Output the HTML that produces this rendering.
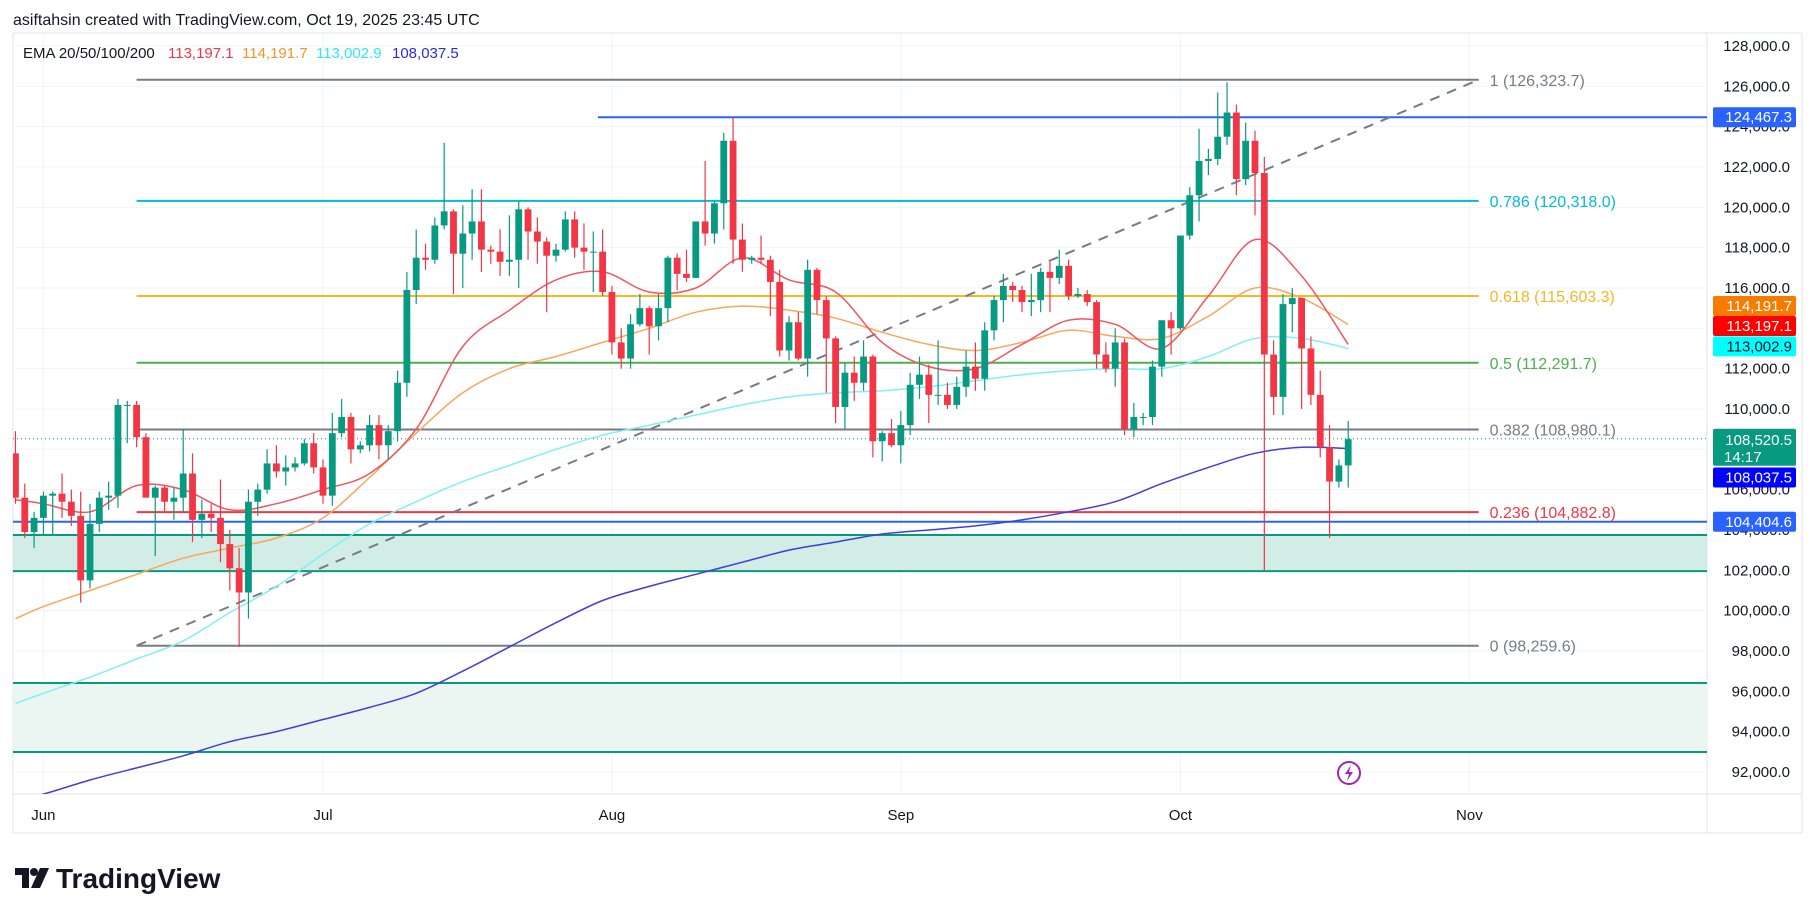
<!DOCTYPE html>
<html><head><meta charset="utf-8"><style>
html,body{margin:0;padding:0;background:#fff;}
body{width:1815px;height:900px;overflow:hidden;position:relative;font-family:"Liberation Sans",Arial,sans-serif;}
svg text{font-family:"Liberation Sans",Arial,sans-serif;}
</style></head><body>
<svg id="chart" width="1815" height="900" viewBox="0 0 1815 900" xmlns="http://www.w3.org/2000/svg">
<rect x="0" y="0" width="1815" height="900" fill="#ffffff"/>
<text x="13" y="25" font-size="16" fill="#131722">asiftahsin created with TradingView.com, Oct 19, 2025 23:45 UTC</text>
<line x1="13" y1="33" x2="1802" y2="33" stroke="#e0e3eb" stroke-width="1"/>
<line x1="13" y1="33" x2="13" y2="833" stroke="#e0e3eb" stroke-width="1"/>
<line x1="1802" y1="33" x2="1802" y2="833" stroke="#e0e3eb" stroke-width="1"/>
<line x1="13" y1="833" x2="1802" y2="833" stroke="#e0e3eb" stroke-width="1"/>
<line x1="13" y1="794" x2="1802" y2="794" stroke="#e0e3eb" stroke-width="1"/>
<line x1="1707" y1="33" x2="1707" y2="833" stroke="#e0e3eb" stroke-width="1"/>
<g id="grid"></g>
<g id="zones"></g>
<g id="levels"></g>
<g id="emas"></g>
<g id="candles"></g>
<g id="axis"></g>
<g id="labels"></g>
<g>
<text x="23" y="58" font-size="15" fill="#131722">EMA 20/50/100/200</text>
<text x="168" y="58" font-size="15" fill="#f23645">113,197.1</text>
<text x="242" y="58" font-size="15" fill="#f7922b">114,191.7</text>
<text x="316" y="58" font-size="15" fill="#2ee9f2">113,002.9</text>
<text x="392" y="58" font-size="15" fill="#2c2cd6">108,037.5</text>
</g>
<g>
<circle cx="1349" cy="773" r="11" fill="#fff" stroke="#9c27b0" stroke-width="2"/>
<path d="M1351 765 L1345 774 L1349 774 L1347 781 L1353 772 L1349 772 Z" fill="#9c27b0"/>
</g>
<g>
<path d="M15 868 L29 868 L29 888 L22 888 L22 875 L15 875 Z" fill="#131722"/>
<circle cx="34" cy="872" r="4" fill="#131722"/>
<path d="M40 868 L49 868 L40 888 L31 888 Z" fill="#131722"/>
<text x="56" y="888" font-size="28" font-weight="bold" fill="#131722">TradingView</text>
</g>
</svg>
<script>
// ---- data ----
const startDay = -3; // May 29 relative to Jun 1
const opens  = [107.8,105.6,103.9, 104.6,105.7,105.8,105.4,104.7,101.5,104.3,105.6,105.7,110.2,110.2,108.6,105.6,106.1,105.4,105.6,106.8,104.5,104.8,104.6,103.3,102.1,100.9,105.4,106.0,107.3,106.9,107.1,107.3,108.3,
 107.1,105.7,108.8,109.6,108.0,108.2,109.2,108.2,108.9,111.3,115.9,117.5,117.4,119.1,119.8,117.7,118.7,119.3,117.9,117.8,117.3,117.4,119.9,118.8,118.3,117.6,117.9,119.4,118.0,117.8,117.8,
 115.8,113.3,112.5,114.2,115.0,114.1,115.0,117.5,116.7,116.5,119.3,118.7,120.2,123.3,118.4,117.4,117.5,117.4,116.3,112.9,114.3,112.5,116.9,115.4,113.5,110.1,111.8,111.3,112.6,108.4,108.8,
 108.2,109.2,111.2,111.7,110.7,110.7,110.2,111.1,112.1,111.5,113.9,115.4,116.1,115.9,115.3,115.4,116.8,116.5,117.1,115.6,115.7,115.3,112.7,112.0,113.3,109.0,109.6,109.6,112.1,114.4,
 114.0,118.6,120.6,122.3,122.4,123.5,124.7,121.4,123.3,121.7,112.7,110.6,115.2,115.5,113.0,110.7,108.1,106.4,107.2];
const highs  = [108.9,106.3,104.9, 105.9,105.9,106.8,106.0,105.9,105.3,105.9,106.4,110.5,110.4,110.4,108.8,106.2,106.2,106.1,109.0,107.8,105.5,105.3,106.5,104.0,103.1,106.0,106.3,108.0,108.2,107.7,107.6,108.5,108.8,
 107.5,109.8,110.5,109.8,108.4,109.7,109.7,109.2,111.9,116.8,118.9,118.2,119.5,123.2,119.9,120.1,120.9,120.9,118.1,118.9,119.6,120.3,120.0,119.5,118.5,118.2,119.8,119.8,119.2,118.8,118.9,
 116.1,114.0,114.7,115.7,115.1,115.7,117.6,117.7,117.9,119.3,122.3,120.3,123.7,124.5,119.2,117.6,118.6,117.6,116.9,114.6,114.8,117.4,117.0,115.6,113.6,112.3,112.6,113.4,112.7,108.9,109.5,
 109.9,111.8,112.6,112.2,113.4,111.3,111.6,112.9,113.3,114.3,115.6,116.7,116.3,116.1,116.7,117.0,117.3,117.9,117.4,116.0,115.9,115.4,113.3,114.0,113.5,110.3,109.8,112.4,114.4,114.8,
 118.6,121.0,123.9,122.9,125.7,126.2,125.1,124.2,123.8,122.5,113.4,115.7,116.0,115.5,113.6,111.9,109.2,107.5,109.4];
const lows   = [105.3,103.6,103.1, 103.8,103.7,104.6,104.2,100.4,101.1,103.9,105.0,105.1,108.3,108.1,105.7,102.7,104.9,104.5,104.9,103.4,103.6,103.9,102.4,101.0,98.2,99.6,104.7,105.8,106.6,106.2,106.9,107.2,106.8,
 105.3,105.2,108.6,107.3,107.8,107.9,107.5,107.5,108.4,110.6,115.2,116.9,117.2,118.9,115.7,116.0,117.4,116.8,117.2,116.6,116.6,116.0,117.4,117.2,114.8,117.3,117.8,117.5,116.9,115.8,115.6,
 112.7,112.0,112.0,114.1,112.7,113.4,114.3,115.9,116.3,116.5,118.1,118.2,118.9,117.2,116.8,117.2,117.2,114.6,112.6,112.4,112.4,111.6,114.7,110.8,109.3,109.0,110.4,110.9,107.6,107.4,108.1,
 107.3,108.7,110.5,109.3,110.2,110.0,110.0,110.6,110.9,110.9,113.4,114.3,115.3,114.8,114.6,114.8,114.8,116.2,115.4,115.5,115.1,112.0,111.8,111.1,108.7,108.6,109.2,109.2,111.6,112.7,
 113.9,118.4,119.3,121.6,122.1,123.1,120.6,121.1,119.6,102.0,109.7,109.7,113.8,110.0,110.2,107.6,103.6,106.1,106.1];
const closes = [105.6,103.9,104.6, 105.7,105.8,105.4,104.7,101.5,104.3,105.6,105.7,110.2,110.2,108.6,105.6,106.1,105.4,105.6,106.8,104.5,104.8,104.6,103.3,102.1,100.9,105.4,106.0,107.3,106.9,107.1,107.3,108.3,107.1,
 105.7,108.8,109.6,108.0,108.2,109.2,108.2,108.9,111.3,115.9,117.5,117.4,119.1,119.8,117.7,118.7,119.3,117.9,117.8,117.3,117.4,119.9,118.8,118.3,117.6,117.9,119.4,118.0,117.8,117.8,115.8,
 113.3,112.5,114.2,115.0,114.1,115.0,117.5,116.7,116.5,119.3,118.7,120.2,123.3,118.4,117.4,117.5,117.4,116.3,112.9,114.3,112.5,116.9,115.4,113.5,110.1,111.8,111.3,112.6,108.4,108.8,108.2,
 109.2,111.2,111.7,110.7,110.7,110.2,111.1,112.1,111.5,113.9,115.4,116.1,115.9,115.3,115.4,116.8,116.5,117.1,115.6,115.7,115.3,112.7,112.0,113.3,109.0,109.6,109.6,112.1,114.4,114.0,
 118.6,120.6,122.3,122.4,123.5,124.7,121.4,123.3,121.7,112.7,110.6,115.2,115.5,113.0,110.7,108.1,106.4,107.2,108.5];
const emaDays = [-3,0,5,10,15,20,25,30,35,40,45,50,55,60,65,70,75,80,85,90,95,100,105,110,115,120,125,130,135,140];
const ema20  = [105.5,105.3,104.9,106.2,106.0,105.0,105.3,106.0,106.8,109.0,113.1,114.9,116.4,116.8,115.8,116.0,117.5,116.4,115.8,113.3,112.1,112.0,113.2,114.4,114.2,113.0,115.6,118.4,116.6,113.2];
const ema50  = [99.6,100.2,101.0,101.8,102.6,103.1,103.6,104.6,106.6,108.8,110.8,112.0,112.6,113.3,114.0,114.8,115.1,114.9,114.5,113.8,113.2,112.9,113.3,113.9,113.6,113.5,114.6,116.0,115.5,114.19];
const ema100 = [95.4,95.9,96.7,97.6,98.5,99.9,101.2,102.8,104.3,105.4,106.4,107.2,108.0,108.7,109.2,109.7,110.2,110.6,110.8,110.9,111.1,111.4,111.7,111.9,112.0,112.0,112.6,113.5,113.5,113.0];
const ema200 = [90.6,90.9,91.6,92.2,92.8,93.5,94.0,94.6,95.2,95.9,97.0,98.2,99.4,100.5,101.2,101.8,102.4,103.0,103.4,103.8,104.0,104.2,104.5,104.9,105.4,106.3,107.1,107.8,108.1,108.04];
const priceTicks = [128000,126000,124000,122000,120000,118000,116000,114000,112000,110000,108000,106000,104000,102000,100000,98000,96000,94000,92000];
const monthLabels = ["Jun","Jul","Aug","Sep","Oct","Nov"];
const monthDays = [0,30,61,92,122,153];
const fibLevels = [1,0.786,0.618,0.5,0.382,0.236,0];
const fibPrices = [126323.7,120318.0,115603.3,112291.7,108980.1,104882.8,98259.6];
const fibColors = ["#787b86","#00bcd4","#f5b820","#4caf50","#787b86","#f23645","#787b86"];
const fibStartDay = 10, fibEndDay = 154;
const supportZones = [[103750,101960],[96410,92990]];
const resistancePrice = 124467.3, supportLine = 104404.6, lastPrice = 108520.5;

// ---- scales ----
const PL=13, PR=1707, PT=33, PB=794;
function y(p){ return 46 + (128000 - p)/2000*40.33; }
function x(d){ return 43.4 + 9.32*d; }
const NS="http://www.w3.org/2000/svg";
function mk(tag, parent, attrs){ const e=document.createElementNS(NS,tag); for(const k in attrs) e.setAttribute(k, attrs[k]); parent.appendChild(e); return e; }
const G = id => document.getElementById(id);

const defs = mk('defs', G('chart'), {});
const cp = mk('clipPath', defs, {id:'plotclip'});
mk('rect', cp, {x:PL, y:PT, width:PR-PL, height:PB-PT});
['grid','zones','levels','emas','candles'].forEach(id=>G(id).setAttribute('clip-path','url(#plotclip)'));

priceTicks.forEach((p,i)=>{
  const gl = mk('line', G('grid'), {x1:PL,x2:PR,y1:y(p),y2:y(p),stroke:'#f0f3fa','stroke-width':1});
  
  
  const t = mk('text', G('axis'), {x:1790,y:y(p)+5,'font-size':15,fill:'#131722','text-anchor':'end'});
  
  
  t.textContent = p.toLocaleString('en-US',{minimumFractionDigits:1,maximumFractionDigits:1});
});
monthLabels.forEach((m,i)=>{
  const gl = mk('line', G('grid'), {x1:x(monthDays[i]),x2:x(monthDays[i]),y1:PT,y2:PB,stroke:'#f0f3fa','stroke-width':1});
  
  
  const t = mk('text', G('axis'), {x:x(monthDays[i]),y:820,'font-size':15,fill:'#131722','text-anchor':'middle'});
  
  
  t.textContent = m;
});

supportZones.forEach((z,i)=>{
  const r = mk('rect', G('zones'), {x:PL,y:y(z[0]),width:PR-PL,height:y(z[1])-y(z[0]),fill:i==0?'#d1ede6':'#ebf6f3'});
  
  
  [z[0],z[1]].forEach(p=>{
    const l = mk('line', G('zones'), {x1:PL,x2:PR,y1:y(p),y2:y(p),stroke:'#089981','stroke-width':2});
    
    
  });
});

let l1 = mk('line', G('levels'), {x1:x(59.5),x2:PR,y1:y(resistancePrice),y2:y(resistancePrice),stroke:'#2962ff','stroke-width':2});


let l2 = mk('line', G('levels'), {x1:PL,x2:PR,y1:y(supportLine),y2:y(supportLine),stroke:'#2962ff','stroke-width':2});


let l3 = mk('line', G('levels'), {x1:PL,x2:PR,y1:y(lastPrice),y2:y(lastPrice),stroke:'#089981','stroke-width':1,'stroke-dasharray':'1 3'});


fibLevels.forEach((lv,i)=>{
  const l = mk('line', G('levels'), {x1:x(fibStartDay),x2:x(fibEndDay),y1:y(fibPrices[i]),y2:y(fibPrices[i]),stroke:fibColors[i],'stroke-width':2});
  
  
  const t = mk('text', G('labels'), {x:x(fibEndDay)+11,y:y(fibPrices[i])+6,'font-size':16,fill:fibColors[i]});
  
  
  t.textContent = lv + ' (' + fibPrices[i].toLocaleString('en-US',{minimumFractionDigits:1,maximumFractionDigits:1}) + ')';
});
let tl = mk('line', G('levels'), {x1:x(fibStartDay),y1:y(fibPrices[6]),x2:x(fibEndDay),y2:y(fibPrices[0]),stroke:'#787b86','stroke-width':2,'stroke-dasharray':'10 8'});



// smooth path (Catmull-Rom) through data points
function smoothPath(vals){
  const P = emaDays.map((d,i)=>[x(d), y(vals[i]*1000)]);
  let s = 'M'+P[0][0].toFixed(1)+','+P[0][1].toFixed(1);
  for(let i=0;i<P.length-1;i++){
    const p0=P[Math.max(0,i-1)], p1=P[i], p2=P[i+1], p3=P[Math.min(P.length-1,i+2)];
    const c1=[p1[0]+(p2[0]-p0[0])/6, p1[1]+(p2[1]-p0[1])/6];
    const c2=[p2[0]-(p3[0]-p1[0])/6, p2[1]-(p3[1]-p1[1])/6];
    s += ' C'+c1[0].toFixed(1)+','+c1[1].toFixed(1)+' '+c2[0].toFixed(1)+','+c2[1].toFixed(1)+' '+p2[0].toFixed(1)+','+p2[1].toFixed(1);
  }
  return s;
}
[[ema200,'#3f3fd8'],[ema100,'#7ff0f5'],[ema50,'#f9a65a'],[ema20,'#f0565e']].forEach((s,k)=>{
  const pl = mk('path', G('emas'), {d:smoothPath(s[0]),fill:'none',stroke:s[1],'stroke-width':1.5,'stroke-linejoin':'round'});
  
  
});

closes.forEach((c,i)=>{
  const d = startDay + i, cx = x(d);
  const o = opens[i], up = c >= o, col = up ? '#089981' : '#f23645';
  const g = mk('g', G('candles'), {});
  
  
  mk('line', g, {x1:cx,x2:cx,y1:y(highs[i]*1000),y2:y(lows[i]*1000),stroke:col,'stroke-width':1.2});
  const top = y(Math.max(o,c)*1000), bot = y(Math.min(o,c)*1000);
  mk('rect', g, {x:cx-3.4,y:top,width:6.8,height:Math.max(1,bot-top),fill:col});
});

const boxes = [[124467.3,'124,467.3','#2962ff','#fff',0],[114191.7,'114,191.7','#f57c00','#fff',-18.5],[113197.1,'113,197.1','#ff0000','#fff',-18.5],[113002.9,'113,002.9','#00ffff','#131722',-2],[108520.5,'108,520.5','#089981','#fff',9],[108037.5,'108,037.5','#0000ff','#fff',29],[104404.6,'104,404.6','#2962ff','#fff',0]];
boxes.forEach(b=>{
  const cy = y(b[0]) + b[4];
  const big = b[1]==='108,520.5';
  const g = mk('g', G('labels'), {});
  
  
  if(big){
    mk('rect', g, {x:1713,y:cy-19,width:83,height:37,fill:b[2],rx:2});
    const t = mk('text', g, {x:1792,y:cy-3,'font-size':15,fill:b[3],'text-anchor':'end'}); t.textContent=b[1];
    const t2 = mk('text', g, {x:1724,y:cy+14,'font-size':15,fill:b[3]}); t2.textContent='14:17';
  } else {
    mk('rect', g, {x:1713,y:cy-10,width:83,height:20,fill:b[2],rx:2});
    const t = mk('text', g, {x:1792,y:cy+5,'font-size':15,fill:b[3],'text-anchor':'end'}); t.textContent=b[1];
  }
});
</script>
</body></html>
